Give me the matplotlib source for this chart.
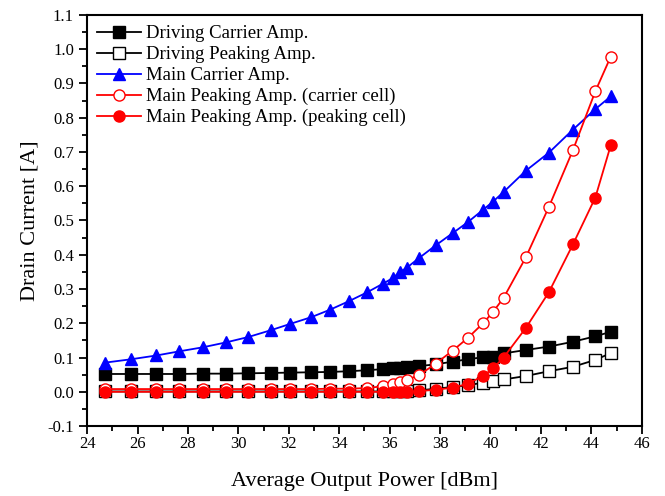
import numpy as np
import matplotlib
matplotlib.use('Agg')
import matplotlib.pyplot as plt
from matplotlib.ticker import MultipleLocator

plt.rcParams['font.family'] = ['Liberation Serif', 'DejaVu Serif']

# output power grid [dBm]
pout = [24.7, 25.75, 26.75, 27.65, 28.6, 29.5, 30.4, 31.3, 32.05, 32.9,
        33.65, 34.4, 35.1, 35.72, 36.13, 36.42, 36.68, 37.16, 37.82, 38.5,
        39.1, 39.72, 40.1, 40.52, 41.4, 42.32, 43.27, 44.16, 44.77]

drv_carrier = [0.052, 0.052, 0.052, 0.052, 0.053, 0.053, 0.054, 0.055, 0.056, 0.057,
               0.058, 0.060, 0.063, 0.066, 0.068, 0.070, 0.072, 0.075, 0.080, 0.088,
               0.095, 0.101, 0.101, 0.112, 0.122, 0.132, 0.146, 0.162, 0.175]

drv_peaking = [0.001, 0.001, 0.001, 0.001, 0.001, 0.001, 0.001, 0.001, 0.001, 0.001,
               0.001, 0.001, 0.001, 0.001, 0.001, 0.002, 0.002, 0.004, 0.009, 0.014,
               0.019, 0.027, 0.032, 0.036, 0.046, 0.060, 0.073, 0.093, 0.113]

main_carrier = [0.085, 0.095, 0.106, 0.118, 0.130, 0.144, 0.160, 0.180, 0.198, 0.218,
                0.240, 0.265, 0.290, 0.315, 0.332, 0.350, 0.362, 0.390, 0.427, 0.463,
                0.495, 0.532, 0.555, 0.583, 0.645, 0.698, 0.765, 0.825, 0.862]

main_pk_carrier = [0.008, 0.008, 0.008, 0.008, 0.008, 0.008, 0.008, 0.008, 0.008, 0.008,
                   0.009, 0.009, 0.011, 0.016, 0.023, 0.029, 0.035, 0.048, 0.082, 0.120,
                   0.157, 0.201, 0.233, 0.274, 0.392, 0.540, 0.705, 0.877, 0.978]

main_pk_peaking = [0.0, 0.0, 0.0, 0.0, 0.0, 0.0, 0.0, 0.0, 0.0, 0.0,
                   0.0, 0.0, 0.0, 0.0, 0.0, 0.0, 0.0, 0.002, 0.006, 0.012,
                   0.023, 0.047, 0.068, 0.100, 0.186, 0.291, 0.430, 0.567, 0.719]

fig = plt.figure(figsize=(6.65, 4.96), dpi=100)
ax = fig.add_axes([0.131, 0.141, 0.834, 0.829])

lw = 1.3
ax.plot(pout, drv_carrier, color='black', marker='s', ms=8, lw=lw,
        label='Driving Carrier Amp.')
ax.plot(pout, drv_peaking, color='black', marker='s', ms=8, mfc='white', lw=lw,
        label='Driving Peaking Amp.')
ax.plot(pout, main_carrier, color='blue', marker='^', ms=9, lw=lw,
        label='Main Carrier Amp.')
ax.plot(pout, main_pk_carrier, color='red', marker='o', ms=8, mfc='white', lw=lw,
        label='Main Peaking Amp. (carrier cell)')
ax.plot(pout, main_pk_peaking, color='red', marker='o', ms=8, lw=lw,
        label='Main Peaking Amp. (peaking cell)')

ax.set_xlim(24, 46)
ax.set_ylim(-0.1, 1.1)
ax.xaxis.set_major_locator(MultipleLocator(2))
ax.xaxis.set_minor_locator(MultipleLocator(1))
ax.yaxis.set_major_locator(MultipleLocator(0.1))
ax.yaxis.set_minor_locator(MultipleLocator(0.05))
ax.set_yticklabels([f'{v:.1f}' for v in ax.get_yticks()])

ax.tick_params(which='major', direction='out', length=6, width=1.3, labelsize=12,
               top=False, right=False)
ax.tick_params(which='minor', direction='out', length=3.5, width=1.3,
               top=False, right=False)
ax.tick_params(axis='x', which='major', pad=1.5)
for s in ax.spines.values():
    s.set_linewidth(1.5)

ax.set_xlabel('Average Output Power [dBm]', fontsize=16, labelpad=14)
ax.set_ylabel('Drain Current [A]', fontsize=16, labelpad=6)

ax.legend(loc='upper left', frameon=False, fontsize=13.5, handlelength=2.3,
          handletextpad=0.3, labelspacing=0.2, borderaxespad=0.25,
          borderpad=0.3)

fig.savefig('out.png', dpi=100)
